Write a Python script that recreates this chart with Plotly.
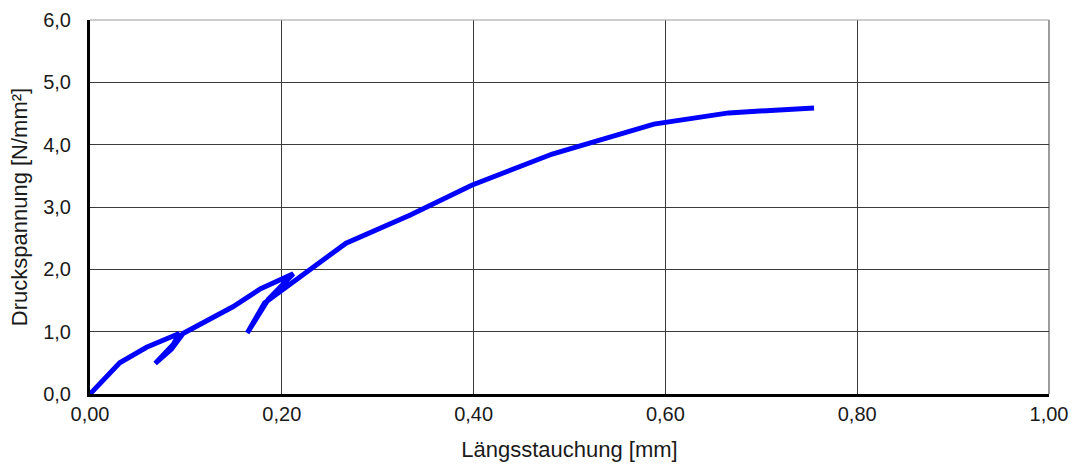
import plotly.graph_objects as go

# Längsstauchung [mm] und Druckspannung [N/mm²] mit zwei Entlastungsschleifen
stauchung = [0.000, 0.031, 0.059, 0.093, 0.087, 0.068, 0.085, 0.097,
             0.149, 0.178, 0.212, 0.186, 0.164, 0.182, 0.267, 0.334,
             0.398, 0.482, 0.588, 0.666, 0.755]
spannung = [0.00, 0.50, 0.75, 0.97, 0.80, 0.49, 0.72, 0.97,
            1.40, 1.69, 1.93, 1.52, 0.98, 1.46, 2.42, 2.87,
            3.35, 3.85, 4.33, 4.51, 4.59]

x_ticks = [0.0, 0.2, 0.4, 0.6, 0.8, 1.0]
x_labels = ["0,00", "0,20", "0,40", "0,60", "0,80", "1,00"]
y_ticks = [0, 1, 2, 3, 4, 5, 6]
y_labels = ["0,0", "1,0", "2,0", "3,0", "4,0", "5,0", "6,0"]

FAMILY = "Arial, Liberation Sans, sans-serif"
tick_font = dict(family=FAMILY, size=20, color="#1a1a1a")
title_font = dict(family=FAMILY, size=22, color="#1a1a1a")

fig = go.Figure(
    go.Scatter(
        x=stauchung, y=spannung, mode="lines",
        line=dict(color="#0000ff", width=5),
        showlegend=False,
    )
)

fig.update_layout(
    width=1074, height=466,
    margin=dict(l=90, r=25, t=20, b=72),
    paper_bgcolor="white", plot_bgcolor="white",
    font=tick_font,
)

fig.update_xaxes(
    range=[0, 1.0], tickvals=x_ticks, ticktext=x_labels, tickfont=tick_font,
    showgrid=True, gridcolor="#3a3a3a", gridwidth=1,
    showline=True, linecolor="black", linewidth=3,
    ticks="", zeroline=False, automargin=False,
    title=dict(text="Längsstauchung [mm]", font=title_font, standoff=18),
)
fig.update_yaxes(
    range=[0, 6.0], tickvals=y_ticks, ticktext=y_labels, tickfont=tick_font,
    showgrid=True, gridcolor="#3a3a3a", gridwidth=1,
    showline=True, linecolor="black", linewidth=3,
    ticks="outside", ticklen=12, tickcolor="rgba(0,0,0,0)",
    zeroline=False, automargin=False,
    title=dict(text="Druckspannung [N/mm²]", font=title_font, standoff=10),
)

# rechter und oberer Rahmen als Gitterlinien
fig.add_shape(type="line", xref="paper", yref="paper", x0=1, x1=1, y0=0, y1=1,
              line=dict(color="#3a3a3a", width=1))
fig.add_shape(type="line", xref="paper", yref="paper", x0=0, x1=1, y0=1, y1=1,
              line=dict(color="#9a9a9a", width=1))

fig.write_html("out.html")
